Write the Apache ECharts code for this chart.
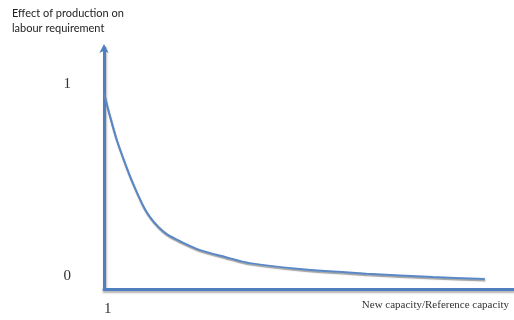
<!DOCTYPE html>
<html>
<head>
<meta charset="utf-8">
<script src="https://cdn.jsdelivr.net/npm/echarts@6/dist/echarts.min.js"></script>
<style>html,body{margin:0;padding:0;background:#fff}#c{width:514px;height:320px}</style>
</head>
<body>
<div id="c"></div>
<script>
var titleLines = ['Effect of production on', 'labour requirement'];
var xAxisName = 'New capacity/Reference capacity';
var yTickLabels = [0, 1];
var xTickLabels = [1];
var capacityRatio = [1.0, 1.13, 1.28, 1.46, 1.64, 1.86, 2.01, 2.19, 2.38, 2.67, 3.11, 3.66, 4.20, 5.30, 6.77, 8.22, 9.36];
var labourEffect = [0.951, 0.833, 0.708, 0.588, 0.479, 0.364, 0.306, 0.256, 0.217, 0.180, 0.134, 0.098, 0.066, 0.035, 0.011, -0.007, -0.017];

var data = capacityRatio.map(function (x, i) { return [x, labourEffect[i]]; });
var axisBlue = '#4f7fbf';
var chart = echarts.init(document.getElementById('c'), null, {renderer: 'canvas'});
chart.setOption({
  animation: false,
  title: {
    text: titleLines.join('\n'),
    left: 12, top: 6, padding: 0,
    textStyle: {fontFamily: 'Lato', fontSize: 11, fontWeight: 'normal', color: '#222', lineHeight: 15}
  },
  grid: {left: 104, right: 0, top: 48, bottom: 31, containLabel: false},
  xAxis: {
    type: 'value', min: 1, max: 10,
    name: xAxisName, nameLocation: 'end', nameGap: -5,
    nameTextStyle: {fontFamily: 'Liberation Serif', fontSize: 11, color: '#333', align: 'right', verticalAlign: 'top', padding: [11, 0, 0, 0]},
    axisLine: {onZero: false, lineStyle: {color: axisBlue, width: 3, shadowColor: 'rgba(0,0,0,0.3)', shadowBlur: 2, shadowOffsetY: 2}},
    axisTick: {show: false},
    splitLine: {show: false},
    axisLabel: {customValues: xTickLabels, fontFamily: 'Liberation Serif', fontSize: 15, color: '#333', align: 'left', margin: 13}
  },
  yAxis: {
    type: 'value', min: -0.069, max: 1.188,
    axisLine: {show: true, onZero: false, symbol: ['none', 'arrow'], symbolSize: [7, 9], symbolOffset: [0, 4],
      lineStyle: {color: axisBlue, width: 3, shadowColor: 'rgba(0,0,0,0.25)', shadowBlur: 2, shadowOffsetX: 1}},
    axisTick: {show: false},
    splitLine: {show: false},
    axisLabel: {customValues: yTickLabels, fontFamily: 'Liberation Serif', fontSize: 15, color: '#333', margin: 33}
  },
  series: [{
    type: 'line', data: data, smooth: 0.3, showSymbol: false,
    lineStyle: {color: '#5a88c6', width: 2, shadowColor: 'rgba(120,120,120,0.7)', shadowBlur: 1, shadowOffsetY: 1.5, shadowOffsetX: 0.5}
  }]
});
</script>
</body>
</html>
